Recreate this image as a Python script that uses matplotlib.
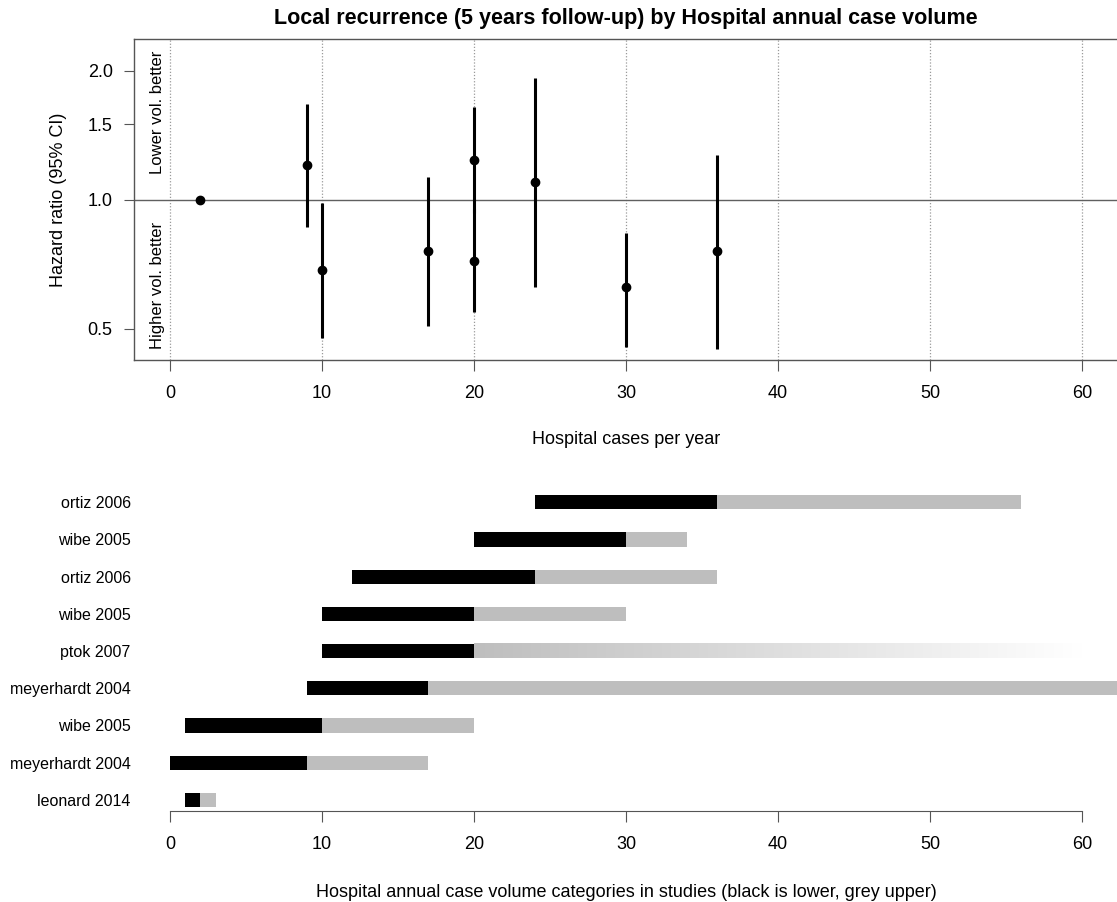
"""Hospital case volume vs local recurrence: forest-style dots plus study category bars."""

import matplotlib

matplotlib.use("Agg")
import matplotlib.pyplot as plt
import numpy as np
from matplotlib.colors import LinearSegmentedColormap

# Hazard ratios by hospital annual case volume (reference category at 2)
volume = [2, 9, 10, 17, 20, 20, 24, 30, 36]
hazard_ratio = [1.0, 1.205, 0.685, 0.758, 1.238, 0.720, 1.098, 0.626, 0.760]
ci_low = [1.0, 0.865, 0.477, 0.507, 0.93, 0.548, 0.627, 0.453, 0.448]
ci_high = [1.0, 1.67, 0.984, 1.128, 1.643, 0.95, 1.923, 0.836, 1.273]

# Volume categories compared in each study (bottom row first)
studies = [
    "leonard 2014",
    "meyerhardt 2004",
    "wibe 2005",
    "meyerhardt 2004",
    "ptok 2007",
    "wibe 2005",
    "ortiz 2006",
    "wibe 2005",
    "ortiz 2006",
]
lower_start = [1, 0, 1, 9, 10, 10, 12, 20, 24]
lower_end = [2, 9, 10, 17, 20, 20, 24, 30, 36]
upper_end = [3, 17, 20, 70, 60, 30, 36, 34, 56]
open_ended = [False, False, False, False, True, False, False, False, False]

x_ticks = [0, 10, 20, 30, 40, 50, 60]
hr_ticks = [0.5, 1.0, 1.5, 2.0]

W, H = 1117, 902
XLIM = (-2.4, 62.4)
GREY = "#bebebe"
AXIS_GREY = "#555555"

plt.rcParams.update(
    {
        "font.family": ["Liberation Sans", "DejaVu Sans"],
        "font.size": 13,
    }
)


def px_rect(left, top, right, bottom):
    return [left / W, 1 - bottom / H, (right - left) / W, (bottom - top) / H]


def draw_hazard_panel(fig):
    ax = fig.add_axes(px_rect(133.5, 39.3, 1118.5, 360.3))
    ax.set_yscale("log")
    ax.set_xlim(*XLIM)
    ax.set_ylim(0.422, 2.37)

    for xv in x_ticks:
        ax.axvline(xv, color="#9a9a9a", linestyle=(0, (1, 1.5)), linewidth=0.9, zorder=0)
    ax.axhline(1.0, color="#606060", linewidth=1.0, zorder=1)

    for xv, hr, lo, hi in zip(volume, hazard_ratio, ci_low, ci_high):
        if hi > lo:
            ax.plot([xv, xv], [lo, hi], color="black", linewidth=2.2, solid_capstyle="butt", zorder=2)
    ax.plot(volume, hazard_ratio, "o", color="black", markersize=6, zorder=3)

    ax.text(-0.85, 1.15, "Lower vol. better", rotation=90, ha="center", va="bottom", fontsize=12)
    ax.text(-0.85, 0.887, "Higher vol. better", rotation=90, ha="center", va="top", fontsize=12)

    ax.set_yticks(hr_ticks)
    ax.set_yticklabels([f"{t:.1f}" for t in hr_ticks])
    ax.yaxis.set_minor_locator(matplotlib.ticker.NullLocator())
    ax.set_xticks(x_ticks)
    ax.tick_params(axis="x", length=8, width=0.8, color=AXIS_GREY, pad=10, labelsize=13)
    ax.tick_params(axis="y", length=7, width=0.8, color=AXIS_GREY, pad=8, labelsize=13)

    for side in ("left", "bottom", "top", "right"):
        ax.spines[side].set_color(AXIS_GREY)
        ax.spines[side].set_linewidth(1.0)

    ax.set_ylabel("Hazard ratio (95% CI)", fontsize=13)
    ax.yaxis.set_label_coords((67 - 133.5) / 985, 0.5)
    ax.set_xlabel("Hospital cases per year", fontsize=13, labelpad=21)
    ax.set_title(
        "Local recurrence (5 years follow-up) by Hospital annual case volume",
        fontsize=15.5,
        fontweight="bold",
        pad=11,
    )
    return ax


def draw_category_panel(fig):
    ax = fig.add_axes(px_rect(133.5, 480, 1118.5, 811))
    ylim = (0.70, 0.70 + 331 / 37.2)

    rows = np.arange(1, len(studies) + 1)
    bar_h = 0.38
    fade = LinearSegmentedColormap.from_list("fade", [GREY, "#ffffff"])

    for y, s0, s1, e, is_open in zip(rows, lower_start, lower_end, upper_end, open_ended):
        if is_open:
            grad = np.linspace(0, 1, 256).reshape(1, -1)
            ax.imshow(
                grad,
                cmap=fade,
                aspect="auto",
                extent=(s1, e, y - bar_h / 2, y + bar_h / 2),
                interpolation="bilinear",
                zorder=1,
            )
        else:
            ax.barh(y, e - s1, left=s1, height=bar_h, color=GREY, linewidth=0, zorder=1)
        ax.barh(y, s1 - s0, left=s0, height=bar_h, color="black", linewidth=0, zorder=2)

    # imshow resets limits, so set them afterwards
    ax.set_xlim(*XLIM)
    ax.set_ylim(*ylim)

    ax.set_yticks(rows)
    ax.set_yticklabels(studies)
    ax.tick_params(axis="y", length=0, pad=2, labelsize=11.5)
    ax.set_xticks(x_ticks)
    ax.tick_params(axis="x", length=8, width=0.8, color=AXIS_GREY, pad=10, labelsize=13)

    for side in ("left", "top", "right"):
        ax.spines[side].set_visible(False)
    ax.spines["bottom"].set_bounds(0, 60)
    ax.spines["bottom"].set_color(AXIS_GREY)

    ax.set_xlabel(
        "Hospital annual case volume categories in studies (black is lower, grey upper)",
        fontsize=13,
        labelpad=22,
    )
    return ax


def main():
    fig = plt.figure(figsize=(W / 100, H / 100), dpi=100)
    draw_hazard_panel(fig)
    draw_category_panel(fig)
    fig.savefig("out.png", dpi=100)
    plt.close(fig)


if __name__ == "__main__":
    main()
